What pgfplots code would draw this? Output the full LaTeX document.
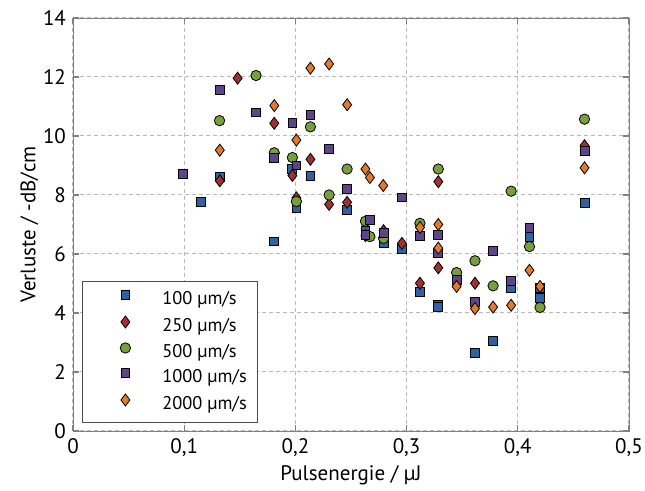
\documentclass[border=0pt]{standalone}
\usepackage{fontspec}
\setmainfont{PT Sans}
\usepackage{pgfplots}
\pgfplotsset{compat=1.18}

\definecolor{cblue}{HTML}{2F62A3}
\definecolor{cred}{HTML}{A3302F}
\definecolor{cgreen}{HTML}{77A03A}
\definecolor{cpurple}{HTML}{5E4589}
\definecolor{corange}{HTML}{E27A2A}
\definecolor{axgray}{HTML}{808080}

\begin{document}
\begin{tikzpicture}
\begin{axis}[
    name=ax,
    scale only axis,
    width=278pt, height=206.5pt,
    xmin=0, xmax=0.5, ymin=0, ymax=14,
    xtick={0,0.1,...,0.5}, ytick={0,2,...,14},
    /pgf/number format/use comma,
    /pgf/number format/assume math mode=true,
    font=\fontsize{10.5}{12}\selectfont,
    xlabel={Pulsenergie / µJ},
    ylabel={Verluste / -dB/cm},
    xlabel style={yshift=2pt},
    ylabel style={yshift=-4.5pt},
    axis line style={axgray},
    tick style={axgray, line width=0.6pt},
    tick align=inside,
    major tick length=3pt,
    grid=major,
    major grid style={gray!55, dash pattern=on 2pt off 1.5pt, line width=0.5pt},
    only marks,
    every mark/.append style={draw=black!75, line width=0.35pt},
    legend style={
        at={(rel axis cs:0,0)}, anchor=south west,
        xshift=4.5pt, yshift=4pt,
        draw=black!70, fill=white,
        font=\fontsize{9.2}{10}\selectfont,
        inner xsep=5.5pt, inner ysep=4.5pt,
        row sep=3.6pt, column sep=0pt,
        nodes={inner sep=0pt, text height=6.8pt, text depth=2.2pt},
    },
    legend cell align=left,
    legend image code/.code={
        \path[draw=none, fill=none] (-16pt,0pt) -- (18.5pt,0pt);
        \draw[#1, /tikz/only marks] plot coordinates {(0pt,2.3pt)};
    },
]
\addplot[only marks, mark=square*, mark size=2.2pt, mark options={fill=cblue}] coordinates {
(0.115,7.76) (0.132,8.6) (0.181,6.43) (0.197,8.89) (0.2009,7.55) (0.2135,8.64)
(0.2465,7.5) (0.263,6.77) (0.2793,6.36) (0.2958,6.17) (0.312,4.71) (0.3285,4.27)
(0.3285,4.2) (0.3615,2.65) (0.3778,3.06) (0.394,4.84) (0.4105,6.59) (0.42,4.52)
(0.46,7.73)};
\addplot[only marks, mark=diamond*, mark size=3pt, mark options={fill=cred}] coordinates {
(0.132,8.48) (0.148,11.96) (0.181,10.43) (0.1973,8.66) (0.2009,7.9) (0.2135,9.21)
(0.2303,7.68) (0.2465,7.75) (0.263,6.62) (0.2793,6.79) (0.2958,6.36) (0.312,5.01)
(0.3285,8.45) (0.3285,5.53) (0.3615,5.01) (0.46,9.67)};
\addplot[only marks, mark=*, mark size=2.6pt, mark options={fill=cgreen}] coordinates {
(0.1318,10.52) (0.1646,12.05) (0.181,9.43) (0.1973,9.27) (0.2009,7.78) (0.2135,10.31)
(0.2303,8.0) (0.2465,8.88) (0.263,7.11) (0.267,6.59) (0.2793,6.53) (0.312,7.04)
(0.3285,8.88) (0.345,5.37) (0.3615,5.77) (0.3778,4.92) (0.394,8.13) (0.4105,6.25)
(0.42,4.19) (0.46,10.57)};
\addplot[only marks, mark=square*, mark size=2.2pt, mark options={fill=cpurple}] coordinates {
(0.0988,8.72) (0.1318,11.55) (0.1646,10.8) (0.181,9.27) (0.1973,10.44) (0.2009,9.0)
(0.2135,10.71) (0.2303,9.57) (0.2465,8.21) (0.263,6.65) (0.267,7.15) (0.2793,6.72)
(0.2958,7.92) (0.312,6.6) (0.3285,6.65) (0.3285,6.05) (0.345,5.11) (0.3615,4.37)
(0.3778,6.1) (0.394,5.09) (0.4105,6.88) (0.42,4.85) (0.46,9.5)};
\addplot[only marks, mark=diamond*, mark size=3pt, mark options={fill=corange}] coordinates {
(0.132,9.52) (0.181,11.03) (0.2009,9.86) (0.2135,12.3) (0.2303,12.44) (0.2465,11.06)
(0.263,8.88) (0.267,8.59) (0.279,8.32) (0.312,6.9) (0.3285,7.0) (0.3285,6.2)
(0.345,4.9) (0.3615,4.15) (0.3778,4.2) (0.394,4.26) (0.4105,5.45) (0.42,4.9)
(0.46,8.92)};
\legend{100 µm/s, 250 µm/s, 500 µm/s, 1000 µm/s, 2000 µm/s}
\coordinate (bl) at (rel axis cs:0,0);
\coordinate (tr) at (rel axis cs:1,1);
\end{axis}
\pgfresetboundingbox
\path ([shift={(-36.5pt,-30pt)}]bl) rectangle ([shift={(8pt,9pt)}]tr);
\end{tikzpicture}
\end{document}
